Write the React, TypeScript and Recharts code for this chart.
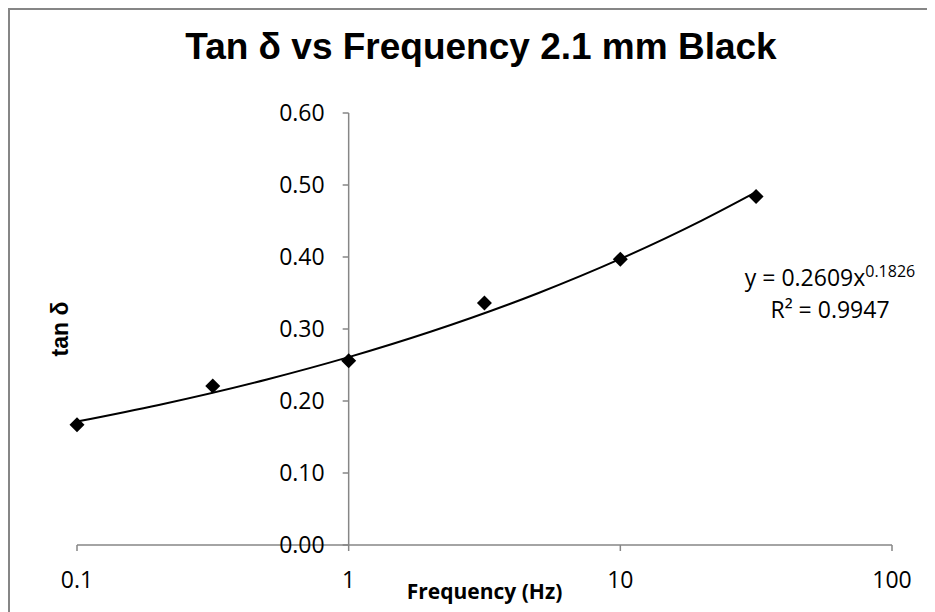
import React from "react";
import {
  ComposedChart, Line, Scatter, XAxis, YAxis, ReferenceLine,
} from "recharts";

// measured frequencies (Hz) and tan delta
const freq = [0.1, 0.316, 1, 3.16, 10, 31.6];
const tanDelta = [0.167, 0.221, 0.256, 0.336, 0.397, 0.484];

// power trendline y = 0.2609x^0.1826, read at a few frequencies
const trendFreq = [0.1, 0.2, 0.5, 1, 2, 5, 10, 20, 31.6];
const trendTan = [0.1714, 0.1945, 0.2299, 0.2609, 0.2961, 0.35, 0.3973, 0.4509, 0.4902];

const xTicks = [0.1, 1, 10, 100];
const yTicks = [0, 0.1, 0.2, 0.3, 0.4, 0.5, 0.6];

const points = freq.map((x, i) => ({ x, y: tanDelta[i] }));
const trend = trendFreq.map((x, i) => ({ x, y: trendTan[i] }));

const W = 927;
const H = 604;
const Y_W = 60;
const PLOT_LEFT = 69;
const PLOT_RIGHT = 884;
const M = { top: 105, right: W - PLOT_RIGHT, left: PLOT_LEFT - Y_W, bottom: 0 };
const PLOT_W = PLOT_RIGHT - PLOT_LEFT;
const PLOT_BOTTOM = 537;
const AXIS_X = PLOT_LEFT + PLOT_W / 3; // where x = 1 sits on the log axis
const AXIS = "#868686";
const TICK_FONT = "'Open Sans', sans-serif";

const YTick = (props: any) => {
  const { y, payload } = props;
  return (
    <g>
      <line x1={AXIS_X - 6} x2={AXIS_X} y1={y} y2={y} stroke={AXIS} strokeWidth={1.5} />
      <text x={AXIS_X - 24} y={y + 8} textAnchor="end" fontSize={23} fontFamily={TICK_FONT} fill="#000">
        {Number(payload.value).toFixed(2)}
      </text>
    </g>
  );
};

const XTick = (props: any) => {
  const { x, payload } = props;
  return (
    <text x={x} y={PLOT_BOTTOM + 43} textAnchor="middle" fontSize={23} fontFamily={TICK_FONT} fill="#000">
      {payload.value}
    </text>
  );
};

const Diamond = (props: any) => {
  const { cx, cy } = props;
  const r = 7.5;
  return <polygon points={`${cx},${cy - r} ${cx + r},${cy} ${cx},${cy + r} ${cx - r},${cy}`} fill="#000" />;
};

export default function App() {
  return (
    <div
      style={{
        position: "relative", width: W, height: H, overflow: "hidden", background: "#fff",
        boxSizing: "border-box", borderLeft: `2px solid ${AXIS}`, borderTop: `2px solid ${AXIS}`,
      }}
    >
      <style>{"html, body { overflow: hidden; }"}</style>
      <div style={{ position: "absolute", left: -2, top: -2 }}>
        <ComposedChart width={W} height={H} margin={M}>
          <XAxis
            dataKey="x" type="number" scale="log" domain={[0.1, 100]} ticks={xTicks}
            height={67} stroke={AXIS} strokeWidth={1.5}
            tickLine={{ stroke: AXIS, strokeWidth: 1.5 }} tickSize={6} tick={<XTick />}
          />
          <YAxis
            dataKey="y" type="number" domain={[0, 0.6]} ticks={yTicks} width={Y_W}
            axisLine={false} tickLine={false} tick={<YTick />}
          />
          <ReferenceLine x={1} stroke={AXIS} strokeWidth={1.5} />
          <Scatter data={points} dataKey="y" shape={<Diamond />} isAnimationActive={false} />
          <Line data={trend} dataKey="y" type="monotone" stroke="#000" strokeWidth={2} dot={false} isAnimationActive={false} />
        </ComposedChart>
      </div>
      <svg width={W} height={H} style={{ position: "absolute", left: -2, top: -2, pointerEvents: "none" }}>
        <text x={473} y={51} textAnchor="middle" fontSize={37} fontWeight="bold" fontFamily="'Liberation Sans', Arial, sans-serif" fill="#000">
          Tan δ vs Frequency 2.1 mm Black
        </text>
        <text transform="translate(60,321) rotate(-90)" textAnchor="middle" fontSize={23} fontWeight="bold" fontFamily="'Liberation Sans', Arial, sans-serif" fill="#000">
          tan δ
        </text>
        <text x={PLOT_LEFT + PLOT_W / 2} y={591} textAnchor="middle" fontSize={21} fontWeight="bold" fontFamily={TICK_FONT} fill="#000">
          Frequency (Hz)
        </text>
        <text x={822} y={278} textAnchor="middle" fontSize={23} fontFamily={TICK_FONT} fill="#000">
          y = 0.2609x<tspan fontSize={16} dy={-9}>0.1826</tspan>
        </text>
        <text x={822} y={310} textAnchor="middle" fontSize={23} fontFamily={TICK_FONT} fill="#000">
          R² = 0.9947
        </text>
      </svg>
    </div>
  );
}
